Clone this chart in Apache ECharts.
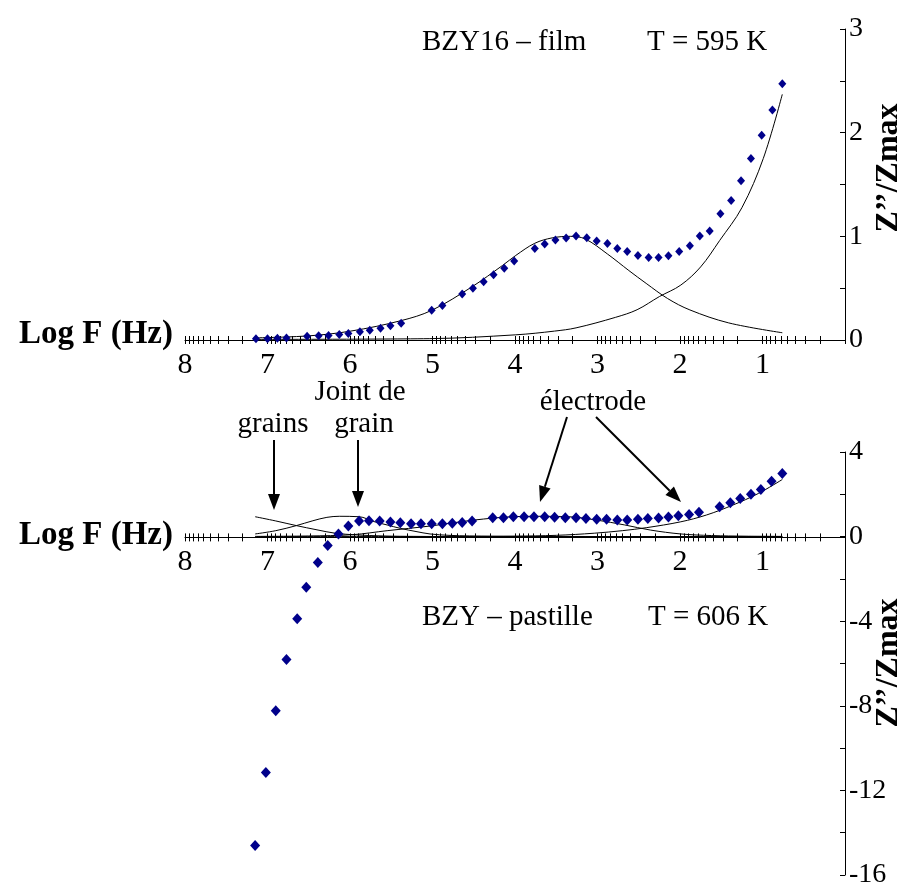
<!DOCTYPE html>
<html><head><meta charset="utf-8">
<script src="https://cdn.jsdelivr.net/npm/echarts@6/dist/echarts.min.js"></script>
<style>html,body{margin:0;padding:0;background:#fff}#c{width:915px;height:889px}</style>
</head><body><div id="c"></div>
<script>
// ---------- data ----------
const xMajorTicks = [0, 1, 2, 3, 4, 5, 6, 7, 8];
const xMinorFactors = [2, 3, 4, 5, 6, 7, 8, 9];
const topYTickLabels = ['0', '1', '2', '3'];
const botYTickLabels = ['4', '0', '-4', '-8', '-12', '-16'];

// Top panel: BZY16 film, T = 595 K
const topX = [7.14,7.00,6.88,6.77,6.52,6.38,6.26,6.13,6.02,5.88,5.76,5.63,5.51,5.38,5.01,4.88,4.64,4.51,4.38,4.26,4.13,4.01,3.76,3.64,3.51,3.38,3.26,3.13,3.01,2.88,2.76,2.64,2.51,2.38,2.26,2.14,2.01,1.88,1.76,1.64,1.51,1.38,1.26,1.14,1.01,0.88,0.76];
const topY = [0.013,0.013,0.016,0.02,0.035,0.04,0.044,0.054,0.063,0.079,0.095,0.114,0.137,0.162,0.286,0.333,0.444,0.498,0.562,0.629,0.692,0.762,0.883,0.927,0.965,0.984,1.003,0.987,0.956,0.930,0.883,0.854,0.816,0.797,0.797,0.813,0.854,0.908,1.003,1.051,1.219,1.346,1.537,1.752,1.975,2.219,2.473];
const topPeakX = [7.17,6.5,5.99,5.38,5.01,4.52,4.15,3.99,3.76,3.55,3.33,3.15,2.88,2.62,2.41,2.15,1.88,1.41,0.76];
const topPeakY = [0.02,0.04,0.086,0.187,0.286,0.514,0.72,0.816,0.933,0.985,1.0,0.975,0.83,0.67,0.546,0.40,0.29,0.165,0.07];
const topElecX = [7.17,5.04,3.99,3.52,3.26,2.78,2.52,2.25,1.99,1.75,1.52,1.25,0.99,0.76];
const topElecY = [0.006,0.013,0.05,0.086,0.117,0.219,0.292,0.419,0.53,0.705,0.959,1.276,1.752,2.37];

// Bottom panel: BZY pastille, T = 606 K
const botX = [7.15,7.02,6.90,6.77,6.64,6.53,6.39,6.27,6.14,6.02,5.89,5.77,5.64,5.51,5.39,5.26,5.14,5.01,4.88,4.76,4.64,4.52,4.27,4.14,4.02,3.89,3.77,3.64,3.52,3.39,3.26,3.14,3.01,2.89,2.76,2.64,2.51,2.39,2.26,2.14,2.02,1.89,1.77,1.52,1.39,1.27,1.14,1.02,0.89,0.76];
const botY = [-14.6,-11.15,-8.23,-5.81,-3.89,-2.40,-1.22,-0.42,0.125,0.50,0.74,0.75,0.74,0.69,0.66,0.61,0.61,0.61,0.61,0.63,0.67,0.74,0.89,0.89,0.94,0.94,0.94,0.94,0.91,0.89,0.89,0.85,0.82,0.82,0.78,0.78,0.82,0.85,0.88,0.93,0.99,1.04,1.15,1.41,1.6,1.8,2.0,2.23,2.62,2.98];
const grainsX = [7.15,6.9,6.65,6.4,6.18,5.92,5.6,5.2,4.5,3.0,0.76];
const grainsY = [0.94,0.74,0.52,0.32,0.16,0.08,0.03,0.01,0,0,0];
const jointX = [7.15,6.9,6.65,6.45,6.28,6.13,5.89,5.71,5.55,5.39,5.2,5.03,4.8,4.55,4.0,0.76];
const jointY = [0.125,0.28,0.52,0.75,0.91,0.96,0.94,0.71,0.55,0.39,0.24,0.125,0.06,0.03,0.01,0];
const elecPeakX = [7.15,6.5,5.97,5.55,5.03,4.5,4.03,3.72,3.35,3.01,2.67,2.36,1.99,1.62,1.2,0.76];
const elecPeakY = [0.01,0.03,0.09,0.28,0.5,0.78,0.94,0.96,0.94,0.78,0.55,0.31,0.125,0.05,0.02,0.01];
const elecRiseX = [7.15,5.0,4.0,3.5,3.04,2.7,2.41,1.99,1.68,1.36,1.05,0.76];
const elecRiseY = [0,0.005,0.02,0.06,0.16,0.28,0.42,0.7,1.02,1.49,2.04,2.7];

// ---------- build ----------
const FF = '"Liberation Serif", "Times New Roman", serif';
const zip = (xs, ys) => xs.map((x, i) => [x, ys[i]]);
const xTickVals = [];
xMajorTicks.forEach(n => {
  xTickVals.push(n);
  if (n < 8) xMinorFactors.forEach(k => xTickVals.push(+(n + Math.log10(k)).toFixed(4)));
});

// mode: 'main' (line+labels+outer ticks), 'dup' (inner ticks), 'hidden'
function xAx(grid, mode) {
  const dup = mode === 'dup';
  return {
    type: 'value', gridIndex: grid, min: 0, max: 8, inverse: true, interval: 1,
    show: mode !== 'hidden',
    axisLine: { show: !dup, onZero: false, lineStyle: { color: '#000', width: 1 } },
    axisTick: { show: true, inside: dup, length: 4, customValues: xTickVals, lineStyle: { color: '#000', width: 1 } },
    axisLabel: { show: !dup, fontFamily: FF, fontSize: 30, color: '#000', margin: 10,
      formatter: v => (v === 0 ? '' : String(v)) },
    splitLine: { show: false }
  };
}
function yAx(grid, min, max, interval, labels, show) {
  return {
    type: 'value', gridIndex: grid, position: 'right', min, max, interval, show,
    axisLine: { show: true, onZero: false, lineStyle: { color: '#000', width: 1 } },
    axisTick: { show: true, inside: true, length: 5, lineStyle: { color: '#000' } },
    axisLabel: { fontFamily: FF, fontSize: 28, color: '#000', margin: 4,
      formatter: v => (labels.indexOf(String(v)) >= 0 ? String(v) : '') },
    splitLine: { show: false }
  };
}
const dia = '#00008B';
function scatter(xi, data, size) {
  return { type: 'scatter', xAxisIndex: xi, yAxisIndex: xi, data, symbol: 'diamond',
    symbolSize: size, itemStyle: { color: dia, opacity: 1 }, z: 5 };
}
function line(xi, data) {
  return { type: 'line', xAxisIndex: xi, yAxisIndex: xi, data, symbol: 'none', smooth: 0.35,
    lineStyle: { color: '#000', width: 1 }, z: 3 };
}
function txt(text, x, y, opts) {
  opts = opts || {};
  return { type: 'text', x, y, z: 20, rotation: opts.rot || 0,
    style: { text, fill: '#000', font: (opts.bold ? 'bold ' : '') + (opts.size || 29) + 'px ' + FF,
      align: opts.align || 'left', textAlign: opts.align || 'left',
      verticalAlign: 'middle', textVerticalAlign: 'middle' } };
}
function arrow(x1, y1, x2, y2) {
  const L = 16, W = 6;
  const dx = x2 - x1, dy = y2 - y1, d = Math.hypot(dx, dy);
  const ux = dx / d, uy = dy / d;
  const bx = x2 - ux * L, by = y2 - uy * L;
  return [
    { type: 'line', z: 20, shape: { x1, y1, x2: bx, y2: by }, style: { stroke: '#000', lineWidth: 2 } },
    { type: 'polygon', z: 20, shape: { points: [[x2, y2], [bx - uy * W, by + ux * W], [bx + uy * W, by - ux * W]] },
      style: { fill: '#000' } }
  ];
}

const graphics = [
  txt('BZY16 – film', 422, 42), txt('T = 595 K', 647, 42),
  txt('BZY – pastille', 422, 617), txt('T = 606 K', 648, 617),
  txt('grains', 273, 424, { align: 'center' }),
  txt('Joint de', 360, 392, { align: 'center' }),
  txt('grain', 364, 424, { align: 'center' }),
  txt('électrode', 593, 402, { align: 'center' }),
  txt('Log F (Hz)', 173, 334, { align: 'right', bold: true, size: 33 }),
  txt('Log F (Hz)', 173, 535, { align: 'right', bold: true, size: 33 }),
  txt('Z’’/Zmax', 889, 168, { align: 'center', bold: true, size: 32, rot: Math.PI / 2 }),
  txt('Z’’/Zmax', 889, 663, { align: 'center', bold: true, size: 32, rot: Math.PI / 2 })
].concat(arrow(274, 440, 274, 510), arrow(358, 440, 358, 507),
         arrow(567, 417, 540, 502), arrow(596, 417, 681, 502));

const G = { left: 185, right: 70 };
const option = {
  backgroundColor: '#fff',
  animation: false,
  grid: [
    Object.assign({ top: 29, height: 311 }, G),   // 0 top data
    Object.assign({ top: 452, height: 427 }, G),  // 1 bottom data
    Object.assign({ top: 29, height: 311 }, G),   // 2 top inner ticks
    Object.assign({ top: 452, height: 85.4 }, G), // 3 bottom x axis at zero (outer)
    Object.assign({ top: 452, height: 85.4 }, G)  // 4 bottom x axis at zero (inner ticks)
  ],
  xAxis: [xAx(0, 'main'), xAx(1, 'hidden'), xAx(2, 'dup'), xAx(3, 'main'), xAx(4, 'dup')],
  yAxis: [
    yAx(0, 0, 3, 0.5, topYTickLabels, true),
    yAx(1, -16, 4, 2, botYTickLabels, true),
    yAx(2, 0, 3, 0.5, topYTickLabels, false),
    yAx(3, 0, 4, 2, botYTickLabels, false),
    yAx(4, 0, 4, 2, botYTickLabels, false)
  ],
  series: [
    line(0, zip(topPeakX, topPeakY)),
    line(0, zip(topElecX, topElecY)),
    scatter(0, zip(topX, topY), [8, 9]),
    line(1, zip(grainsX, grainsY)),
    line(1, zip(jointX, jointY)),
    line(1, zip(elecPeakX, elecPeakY)),
    line(1, zip(elecRiseX, elecRiseY)),
    scatter(1, zip(botX, botY), [10, 11])
  ],
  graphic: graphics
};
const chart = echarts.init(document.getElementById('c'), null, { renderer: 'canvas' });
chart.setOption(option);
</script></body></html>
